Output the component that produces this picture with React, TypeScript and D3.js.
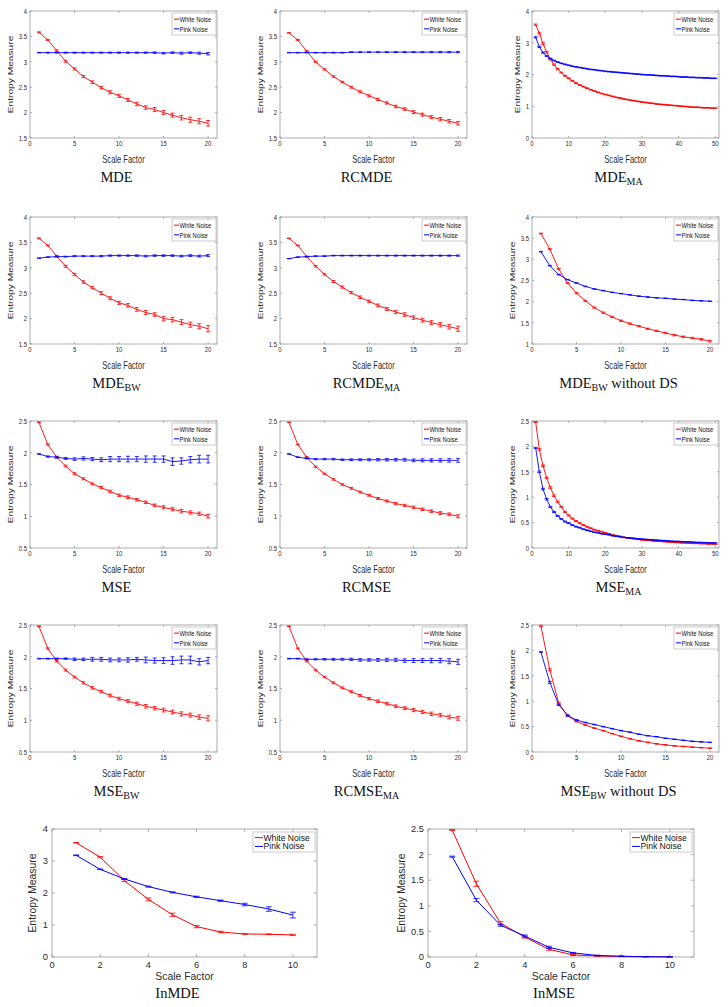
import * as d3 from "d3";

// scale factors
const sf10 = [1, 2, 3, 4, 5, 6, 7, 8, 9, 10];
const sf20 = [1, 2, 3, 4, 5, 6, 7, 8, 9, 10, 11, 12, 13, 14, 15, 16, 17, 18, 19, 20];
const sf50 = [1, 2, 3, 4, 5, 6, 7, 8, 9, 10, 11, 12, 13, 14, 15, 16, 17, 18, 19, 20, 21, 22, 23, 24, 25,
  26, 27, 28, 29, 30, 31, 32, 33, 34, 35, 36, 37, 38, 39, 40, 41, 42, 43, 44, 45, 46, 47, 48, 49, 50];

const ticks20 = [0, 5, 10, 15, 20];
const ticks50 = [0, 10, 20, 30, 40, 50];
const ticks10 = [0, 2, 4, 6, 8, 10];
const ticksMde = [1.5, 2, 2.5, 3, 3.5, 4];
const ticksMde04 = [0, 1, 2, 3, 4];
const ticksMde14 = [1, 1.5, 2, 2.5, 3, 3.5, 4];
const ticksMse = [0.5, 1, 1.5, 2, 2.5];
const ticksMse0 = [0, 0.5, 1, 1.5, 2, 2.5];

// MDE
const mdeWhite = [3.58, 3.43, 3.22, 3.01, 2.86, 2.71, 2.6, 2.49, 2.4, 2.33, 2.25, 2.17, 2.1, 2.06, 2.0, 1.95, 1.9, 1.86, 1.83, 1.79];
const mdeWhiteErr = [0.01, 0.01, 0.015, 0.02, 0.02, 0.02, 0.025, 0.025, 0.03, 0.03, 0.03, 0.035, 0.035, 0.04, 0.04, 0.04, 0.045, 0.05, 0.05, 0.055];
const mdePink = [3.18, 3.18, 3.18, 3.18, 3.18, 3.18, 3.18, 3.18, 3.18, 3.18, 3.18, 3.18, 3.18, 3.18, 3.17, 3.18, 3.17, 3.18, 3.17, 3.16];
const mdePinkErr = [0.005, 0.008, 0.008, 0.01, 0.01, 0.01, 0.01, 0.01, 0.01, 0.012, 0.012, 0.012, 0.012, 0.015, 0.015, 0.015, 0.02, 0.015, 0.02, 0.025];

// RCMDE
const rcmdeWhite = [3.57, 3.43, 3.21, 3.0, 2.85, 2.71, 2.6, 2.5, 2.41, 2.33, 2.26, 2.19, 2.12, 2.07, 2.01, 1.96, 1.91, 1.87, 1.83, 1.79];
const rcmdeWhiteErr = [0.005, 0.008, 0.01, 0.012, 0.015, 0.015, 0.015, 0.018, 0.02, 0.02, 0.022, 0.022, 0.025, 0.025, 0.028, 0.03, 0.03, 0.032, 0.035, 0.035];
const rcmdePink = [3.18, 3.18, 3.18, 3.18, 3.18, 3.18, 3.18, 3.19, 3.19, 3.19, 3.19, 3.19, 3.19, 3.19, 3.19, 3.19, 3.19, 3.19, 3.19, 3.19];
const rcmdePinkErr = [0.004, 0.005, 0.005, 0.006, 0.006, 0.007, 0.007, 0.008, 0.008, 0.008, 0.009, 0.009, 0.01, 0.01, 0.01, 0.01, 0.011, 0.011, 0.012, 0.012];

// MDE_MA
const mdeMaWhite = [3.57, 3.3, 2.97, 2.7, 2.48, 2.31, 2.17, 2.06, 1.96, 1.88, 1.8, 1.73, 1.67, 1.62, 1.57, 1.52, 1.48, 1.44, 1.4, 1.37,
  1.34, 1.31, 1.28, 1.26, 1.23, 1.21, 1.19, 1.17, 1.15, 1.13, 1.12, 1.1, 1.09, 1.07, 1.06, 1.05, 1.04, 1.03, 1.02, 1.01,
  1.0, 0.99, 0.98, 0.97, 0.97, 0.96, 0.95, 0.95, 0.94, 0.94];
const mdeMaWhiteErr = [0.02, 0.03, 0.03, 0.025, 0.02, 0.02, 0.02, 0.015, 0.015, 0.015, 0.012, 0.012, 0.012, 0.01, 0.01, 0.01, 0.01, 0.01, 0.01, 0.01,
  0.01, 0.01, 0.01, 0.01, 0.01, 0.01, 0.01, 0.01, 0.01, 0.01, 0.01, 0.01, 0.01, 0.01, 0.01, 0.01, 0.01, 0.01, 0.01, 0.01,
  0.01, 0.01, 0.01, 0.01, 0.01, 0.01, 0.01, 0.01, 0.01, 0.01];
const mdeMaPink = [3.17, 2.87, 2.69, 2.58, 2.5, 2.44, 2.39, 2.35, 2.32, 2.29, 2.26, 2.24, 2.22, 2.2, 2.18, 2.16, 2.15, 2.13, 2.12, 2.1,
  2.09, 2.08, 2.07, 2.06, 2.05, 2.04, 2.03, 2.02, 2.01, 2.0, 1.99, 1.99, 1.98, 1.97, 1.96, 1.96, 1.95, 1.94, 1.94, 1.93,
  1.92, 1.92, 1.91, 1.91, 1.9, 1.9, 1.89, 1.89, 1.88, 1.88];
const mdeMaPinkErr = [0.02, 0.02, 0.02, 0.015, 0.015, 0.012, 0.012, 0.01, 0.01, 0.01, 0.01, 0.01, 0.01, 0.01, 0.01, 0.01, 0.01, 0.01, 0.01, 0.01,
  0.01, 0.01, 0.01, 0.01, 0.01, 0.01, 0.01, 0.01, 0.01, 0.01, 0.01, 0.01, 0.01, 0.01, 0.01, 0.01, 0.01, 0.01, 0.01, 0.01,
  0.01, 0.01, 0.01, 0.01, 0.01, 0.01, 0.01, 0.01, 0.01, 0.01];

// MDE_BW
const mdeBwWhite = [3.58, 3.44, 3.23, 3.03, 2.87, 2.72, 2.61, 2.5, 2.4, 2.31, 2.26, 2.18, 2.12, 2.08, 2.0, 1.98, 1.93, 1.88, 1.85, 1.8];
const mdeBwWhiteErr = [0.01, 0.01, 0.015, 0.02, 0.02, 0.025, 0.025, 0.03, 0.03, 0.03, 0.035, 0.035, 0.04, 0.035, 0.045, 0.045, 0.05, 0.05, 0.05, 0.06];
const mdeBwPink = [3.19, 3.21, 3.22, 3.22, 3.23, 3.23, 3.23, 3.23, 3.24, 3.24, 3.24, 3.24, 3.23, 3.24, 3.24, 3.24, 3.23, 3.24, 3.23, 3.24];
const mdeBwPinkErr = [0.005, 0.006, 0.008, 0.008, 0.01, 0.01, 0.01, 0.012, 0.012, 0.012, 0.012, 0.015, 0.015, 0.015, 0.015, 0.015, 0.015, 0.018, 0.018, 0.02];

// RCMDE_MA
const rcmdeMaWhite = [3.58, 3.44, 3.22, 3.03, 2.87, 2.73, 2.62, 2.51, 2.42, 2.34, 2.26, 2.19, 2.13, 2.08, 2.02, 1.97, 1.92, 1.88, 1.84, 1.8];
const rcmdeMaWhiteErr = [0.005, 0.008, 0.01, 0.015, 0.015, 0.02, 0.02, 0.02, 0.025, 0.025, 0.028, 0.03, 0.032, 0.035, 0.035, 0.038, 0.04, 0.042, 0.045, 0.05];
const rcmdeMaPink = [3.18, 3.21, 3.22, 3.23, 3.23, 3.24, 3.24, 3.24, 3.24, 3.24, 3.24, 3.24, 3.24, 3.24, 3.24, 3.24, 3.24, 3.24, 3.24, 3.24];
const rcmdeMaPinkErr = [0.004, 0.005, 0.006, 0.006, 0.007, 0.007, 0.008, 0.008, 0.008, 0.009, 0.009, 0.009, 0.01, 0.01, 0.01, 0.01, 0.01, 0.011, 0.011, 0.012];

// MDE_BW without DS
const mdeBwNdWhite = [3.61, 3.24, 2.77, 2.44, 2.2, 2.02, 1.86, 1.74, 1.64, 1.55, 1.48, 1.42, 1.36, 1.31, 1.26, 1.21, 1.17, 1.14, 1.11, 1.07];
const mdeBwNdWhiteErr = [0.01, 0.012, 0.015, 0.015, 0.015, 0.015, 0.015, 0.015, 0.015, 0.015, 0.015, 0.015, 0.015, 0.015, 0.018, 0.018, 0.018, 0.018, 0.018, 0.02];
const mdeBwNdPink = [3.18, 2.85, 2.64, 2.52, 2.44, 2.36, 2.3, 2.26, 2.22, 2.19, 2.16, 2.13, 2.11, 2.09, 2.08, 2.06, 2.05, 2.03, 2.02, 2.01];
const mdeBwNdPinkErr = [0.008, 0.008, 0.008, 0.006, 0.006, 0.006, 0.005, 0.005, 0.005, 0.005, 0.005, 0.005, 0.005, 0.005, 0.005, 0.005, 0.005, 0.005, 0.005, 0.005];

// MSE
const mseWhite = [2.48, 2.13, 1.93, 1.79, 1.67, 1.59, 1.51, 1.45, 1.39, 1.33, 1.3, 1.26, 1.22, 1.17, 1.14, 1.11, 1.08, 1.06, 1.04, 1.0];
const mseWhiteErr = [0.005, 0.01, 0.01, 0.015, 0.015, 0.015, 0.015, 0.018, 0.02, 0.02, 0.02, 0.02, 0.02, 0.022, 0.025, 0.025, 0.028, 0.025, 0.025, 0.028];
const msePink = [1.98, 1.94, 1.93, 1.91, 1.9, 1.91, 1.9, 1.89, 1.9, 1.9, 1.9, 1.9, 1.9, 1.9, 1.9, 1.86, 1.87, 1.89, 1.9, 1.9];
const msePinkErr = [0.005, 0.01, 0.015, 0.015, 0.02, 0.025, 0.025, 0.03, 0.04, 0.04, 0.045, 0.04, 0.05, 0.05, 0.05, 0.06, 0.05, 0.05, 0.06, 0.06];

// RCMSE
const rcmseWhite = [2.48, 2.13, 1.93, 1.78, 1.67, 1.58, 1.5, 1.44, 1.38, 1.33, 1.28, 1.24, 1.2, 1.17, 1.14, 1.11, 1.08, 1.05, 1.03, 1.0];
const rcmseWhiteErr = [0.004, 0.006, 0.008, 0.01, 0.01, 0.012, 0.012, 0.014, 0.014, 0.015, 0.016, 0.016, 0.018, 0.018, 0.02, 0.02, 0.02, 0.022, 0.022, 0.024];
const rcmsePink = [1.98, 1.93, 1.91, 1.9, 1.9, 1.9, 1.89, 1.89, 1.89, 1.89, 1.89, 1.89, 1.89, 1.89, 1.88, 1.88, 1.88, 1.88, 1.88, 1.88];
const rcmsePinkErr = [0.004, 0.006, 0.008, 0.01, 0.01, 0.012, 0.012, 0.014, 0.015, 0.016, 0.018, 0.02, 0.02, 0.022, 0.022, 0.024, 0.025, 0.026, 0.028, 0.03];

// MSE_MA
const mseMaWhite = [2.48, 1.94, 1.62, 1.38, 1.19, 1.03, 0.91, 0.81, 0.71, 0.64, 0.58, 0.53, 0.49, 0.45, 0.42, 0.39, 0.36, 0.34, 0.32, 0.3,
  0.28, 0.26, 0.24, 0.23, 0.21, 0.2, 0.19, 0.18, 0.17, 0.16, 0.155, 0.15, 0.14, 0.135, 0.13, 0.125, 0.12, 0.115, 0.11, 0.105,
  0.1, 0.1, 0.095, 0.09, 0.09, 0.085, 0.085, 0.08, 0.08, 0.075];
const mseMaWhiteErr = [0.01, 0.015, 0.015, 0.015, 0.015, 0.015, 0.015, 0.012, 0.012, 0.012, 0.01, 0.01, 0.01, 0.01, 0.008, 0.008, 0.008, 0.008, 0.008, 0.008,
  0.006, 0.006, 0.006, 0.006, 0.006, 0.006, 0.006, 0.006, 0.006, 0.006, 0.005, 0.005, 0.005, 0.005, 0.005, 0.005, 0.005, 0.005, 0.005, 0.005,
  0.005, 0.005, 0.005, 0.005, 0.005, 0.005, 0.005, 0.005, 0.005, 0.005];
const mseMaPink = [1.97, 1.5, 1.16, 0.96, 0.81, 0.71, 0.63, 0.57, 0.52, 0.49, 0.45, 0.42, 0.4, 0.37, 0.35, 0.33, 0.31, 0.3, 0.28, 0.27,
  0.26, 0.24, 0.23, 0.22, 0.21, 0.2, 0.195, 0.19, 0.18, 0.175, 0.17, 0.165, 0.16, 0.155, 0.15, 0.145, 0.14, 0.135, 0.13, 0.13,
  0.125, 0.12, 0.12, 0.115, 0.11, 0.11, 0.105, 0.105, 0.1, 0.1];
const mseMaPinkErr = [0.01, 0.015, 0.015, 0.015, 0.012, 0.012, 0.01, 0.01, 0.01, 0.01, 0.008, 0.008, 0.008, 0.008, 0.008, 0.006, 0.006, 0.006, 0.006, 0.006,
  0.005, 0.005, 0.005, 0.005, 0.005, 0.005, 0.005, 0.005, 0.005, 0.005, 0.005, 0.005, 0.005, 0.005, 0.005, 0.005, 0.005, 0.005, 0.005, 0.005,
  0.005, 0.005, 0.005, 0.005, 0.005, 0.005, 0.005, 0.005, 0.005, 0.005];

// MSE_BW
const mseBwWhite = [2.48, 2.13, 1.93, 1.79, 1.68, 1.59, 1.51, 1.45, 1.39, 1.34, 1.3, 1.26, 1.22, 1.19, 1.16, 1.13, 1.1, 1.08, 1.05, 1.03];
const mseBwWhiteErr = [0.005, 0.01, 0.012, 0.015, 0.015, 0.018, 0.02, 0.02, 0.022, 0.022, 0.025, 0.025, 0.028, 0.028, 0.03, 0.03, 0.032, 0.032, 0.035, 0.04];
const mseBwPink = [1.97, 1.97, 1.97, 1.97, 1.96, 1.96, 1.96, 1.96, 1.95, 1.95, 1.95, 1.96, 1.95, 1.94, 1.94, 1.94, 1.95, 1.95, 1.92, 1.94];
const mseBwPinkErr = [0.005, 0.006, 0.01, 0.012, 0.02, 0.02, 0.03, 0.03, 0.03, 0.03, 0.035, 0.03, 0.045, 0.04, 0.045, 0.06, 0.06, 0.06, 0.05, 0.05];

// RCMSE_MA
const rcmseMaWhite = [2.48, 2.13, 1.93, 1.79, 1.68, 1.59, 1.51, 1.45, 1.39, 1.34, 1.3, 1.26, 1.22, 1.19, 1.16, 1.13, 1.1, 1.08, 1.05, 1.03];
const rcmseMaWhiteErr = [0.005, 0.008, 0.01, 0.012, 0.012, 0.015, 0.015, 0.015, 0.018, 0.018, 0.02, 0.02, 0.022, 0.022, 0.025, 0.025, 0.028, 0.028, 0.03, 0.03];
const rcmseMaPink = [1.97, 1.97, 1.96, 1.96, 1.96, 1.96, 1.96, 1.96, 1.95, 1.95, 1.95, 1.95, 1.95, 1.94, 1.94, 1.94, 1.94, 1.94, 1.93, 1.92];
const rcmseMaPinkErr = [0.005, 0.006, 0.008, 0.01, 0.012, 0.015, 0.015, 0.018, 0.02, 0.02, 0.022, 0.025, 0.025, 0.028, 0.03, 0.03, 0.035, 0.035, 0.04, 0.04];

// MSE_BW without DS
const mseBwNdWhite = [2.48, 1.62, 0.96, 0.71, 0.6, 0.53, 0.47, 0.42, 0.36, 0.31, 0.26, 0.22, 0.19, 0.16, 0.14, 0.12, 0.11, 0.095, 0.085, 0.075];
const mseBwNdWhiteErr = [0.015, 0.02, 0.02, 0.015, 0.01, 0.008, 0.006, 0.006, 0.005, 0.005, 0.005, 0.005, 0.005, 0.005, 0.005, 0.005, 0.005, 0.005, 0.005, 0.005];
const mseBwNdPink = [1.97, 1.37, 0.93, 0.72, 0.63, 0.58, 0.54, 0.5, 0.46, 0.42, 0.39, 0.35, 0.32, 0.3, 0.27, 0.25, 0.23, 0.21, 0.2, 0.19];
const mseBwNdPinkErr = [0.01, 0.02, 0.015, 0.01, 0.008, 0.006, 0.005, 0.005, 0.005, 0.005, 0.005, 0.005, 0.005, 0.005, 0.005, 0.005, 0.005, 0.005, 0.005, 0.005];

// InMDE
const inmdeWhite = [3.57, 3.12, 2.39, 1.8, 1.32, 0.95, 0.78, 0.72, 0.71, 0.69];
const inmdeWhiteErr = [0.01, 0.02, 0.035, 0.045, 0.05, 0.035, 0.025, 0.01, 0.01, 0.02];
const inmdePink = [3.18, 2.74, 2.44, 2.2, 2.02, 1.88, 1.76, 1.64, 1.5, 1.31];
const inmdePinkErr = [0.01, 0.01, 0.01, 0.015, 0.015, 0.02, 0.02, 0.04, 0.07, 0.09];

// InMSE
const inmseWhite = [2.48, 1.43, 0.66, 0.39, 0.15, 0.04, 0.02, 0.01, 0.005, 0.002];
const inmseWhiteErr = [0.01, 0.05, 0.03, 0.02, 0.02, 0.01, 0.005, 0.004, 0.003, 0.002];
const inmsePink = [1.96, 1.11, 0.62, 0.41, 0.19, 0.08, 0.03, 0.015, 0.007, 0.003];
const inmsePinkErr = [0.01, 0.03, 0.02, 0.02, 0.02, 0.01, 0.006, 0.004, 0.003, 0.002];

const RED = "#ff0000";
const BLUE = "#0000ff";
const AXIS = "#9a9a9a";
const LABEL = "#2b2b2b";
const SANS = "'Liberation Sans', Arial, sans-serif";
const SERIF = "'Liberation Serif', 'DejaVu Serif', serif";

type PanelProps = {
  x0: number; y0: number; w: number; h: number;
  xs: number[]; xMax: number; xTicks: number[];
  yDomain: [number, number]; yTicks: number[];
  white: number[]; whiteErr: number[]; pink: number[]; pinkErr: number[];
  title: string; sub?: string; suffix?: string;
  big?: boolean;
};

function Panel(p: PanelProps) {
  const big = !!p.big;
  // the small panels in the source are squeezed horizontally
  const sx = big ? 1 : 0.74;
  const tickFont = big ? 9.3 : 8;
  const labFont = big ? 10.4 : 10.2;
  const legFont = big ? 8.6 : 8;
  const tickLen = big ? 3 : 2;
  const cap = big ? 3 : 2;

  const x = d3.scaleLinear().domain([0, p.xMax]).range([p.x0, p.x0 + p.w]);
  const y = d3.scaleLinear().domain(p.yDomain).range([p.y0 + p.h, p.y0]);
  const line = d3.line<number>().x((_, i) => x(p.xs[i])).y((d) => y(d));

  const fmt = (t: number) => String(t);
  const charW = (s: string) =>
    s.split("").reduce((a, c) => a + (c === "." ? 0.278 : 0.556), 0) * tickFont * sx;
  const maxTickW = Math.max(...p.yTicks.map((t) => charW(fmt(t))));
  const yLabX = p.x0 - (big ? 4 + maxTickW + 6.5 : 3 + maxTickW + 5.5);
  const bottom = p.y0 + p.h;
  const right = p.x0 + p.w;
  const cx = p.x0 + p.w / 2;

  const series = [
    { v: p.white, e: p.whiteErr, c: RED },
    { v: p.pink, e: p.pinkErr, c: BLUE },
  ];

  const legW = big ? 62 : 44;
  const legH = big ? 20 : 22;
  const legX = right - legW - (big ? 2 : 1);
  const legY = p.y0 + (big ? 3 : 2);

  return (
    <g>
      <rect x={p.x0} y={p.y0} width={p.w} height={p.h} fill="#fff" stroke={AXIS} strokeWidth={0.8} />
      {p.xTicks.map((t) => (
        <g key={"xt" + t}>
          <line x1={x(t)} x2={x(t)} y1={bottom} y2={bottom - tickLen} stroke={AXIS} strokeWidth={0.8} />
          <line x1={x(t)} x2={x(t)} y1={p.y0} y2={p.y0 + tickLen} stroke={AXIS} strokeWidth={0.8} />
          <text transform={`translate(${x(t)},${bottom + (big ? 10.5 : 8.3)}) scale(${sx},1)`} textAnchor="middle"
            fontSize={tickFont} fill={LABEL} fontFamily={SANS}>{fmt(t)}</text>
        </g>
      ))}
      {p.yTicks.map((t) => (
        <g key={"yt" + t}>
          <line x1={p.x0} x2={p.x0 + tickLen} y1={y(t)} y2={y(t)} stroke={AXIS} strokeWidth={0.8} />
          <line x1={right} x2={right - tickLen} y1={y(t)} y2={y(t)} stroke={AXIS} strokeWidth={0.8} />
          <text transform={`translate(${p.x0 - (big ? 4 : 3)},${y(t) + tickFont * 0.35}) scale(${sx},1)`} textAnchor="end"
            fontSize={tickFont} fill={LABEL} fontFamily={SANS}>{fmt(t)}</text>
        </g>
      ))}
      <text transform={`translate(${cx},${bottom + (big ? 23 : 24.5)}) scale(${sx},1)`} textAnchor="middle"
        fontSize={labFont} fill={LABEL} fontFamily={SANS}>Scale Factor</text>
      <text transform={`translate(${yLabX},${p.y0 + p.h / 2}) scale(${sx},1) rotate(-90)`} textAnchor="middle"
        fontSize={labFont} fill={LABEL} fontFamily={SANS}>Entropy Measure</text>

      {series.map((s, k) => (
        <g key={"s" + k}>
          <path d={line(s.v) ?? ""} fill="none" stroke={s.c} strokeWidth={big ? 1 : 0.9} />
          {s.v.map((v, i) => {
            const px = x(p.xs[i]);
            const lo = y(v - s.e[i]);
            const hi = y(v + s.e[i]);
            return (
              <g key={i} stroke={s.c} strokeWidth={0.8}>
                <line x1={px} x2={px} y1={lo} y2={hi} />
                <line x1={px - cap} x2={px + cap} y1={lo} y2={lo} />
                <line x1={px - cap} x2={px + cap} y1={hi} y2={hi} />
              </g>
            );
          })}
        </g>
      ))}

      <rect x={legX} y={legY} width={legW} height={legH} fill="#fff" stroke="#b5b5b5" strokeWidth={0.7} />
      {[{ t: "White Noise", c: RED }, { t: "Pink Noise", c: BLUE }].map((l, i) => {
        const ly = legY + legH * (i === 0 ? 0.28 : 0.72);
        return (
          <g key={l.t}>
            <line x1={legX + 2} x2={legX + (big ? 10 : 7)} y1={ly} y2={ly} stroke={l.c} strokeWidth={1} />
            <text transform={`translate(${legX + (big ? 10.5 : 7.5)},${ly + legFont * 0.35}) scale(${sx},1)`}
              fontSize={legFont} fill="#111" fontFamily={SANS}>{l.t}</text>
          </g>
        );
      })}

      <text x={cx - 7} y={bottom + (big ? 41 : 44)} textAnchor="middle" fontSize={14.5} fill="#111" fontFamily={SERIF}>
        {p.title}
        {p.sub && <tspan fontSize={10} dy={3}>{p.sub}</tspan>}
        {p.suffix && <tspan fontSize={14.5} dy={-3}>{p.suffix}</tspan>}
      </text>
    </g>
  );
}

const COLS = [30, 280, 532];
const ROWS = [11, 217, 421, 625];
const PW = 187;
const PH = 127;

export default function App() {
  const small = (r: number, c: number) => ({ x0: COLS[c], y0: ROWS[r], w: PW, h: PH });
  return (
    <svg width={728} height={1007} style={{ position: "absolute", left: 0, top: 0, background: "#fff" }}>
      <rect width={728} height={1007} fill="#fff" />
      <Panel {...small(0, 0)} xs={sf20} xMax={21} xTicks={ticks20} yDomain={[1.5, 4]} yTicks={ticksMde}
        white={mdeWhite} whiteErr={mdeWhiteErr} pink={mdePink} pinkErr={mdePinkErr} title="MDE" />
      <Panel {...small(0, 1)} xs={sf20} xMax={21} xTicks={ticks20} yDomain={[1.5, 4]} yTicks={ticksMde}
        white={rcmdeWhite} whiteErr={rcmdeWhiteErr} pink={rcmdePink} pinkErr={rcmdePinkErr} title="RCMDE" />
      <Panel {...small(0, 2)} xs={sf50} xMax={51} xTicks={ticks50} yDomain={[0, 4]} yTicks={ticksMde04}
        white={mdeMaWhite} whiteErr={mdeMaWhiteErr} pink={mdeMaPink} pinkErr={mdeMaPinkErr} title="MDE" sub="MA" />

      <Panel {...small(1, 0)} xs={sf20} xMax={21} xTicks={ticks20} yDomain={[1.5, 4]} yTicks={ticksMde}
        white={mdeBwWhite} whiteErr={mdeBwWhiteErr} pink={mdeBwPink} pinkErr={mdeBwPinkErr} title="MDE" sub="BW" />
      <Panel {...small(1, 1)} xs={sf20} xMax={21} xTicks={ticks20} yDomain={[1.5, 4]} yTicks={ticksMde}
        white={rcmdeMaWhite} whiteErr={rcmdeMaWhiteErr} pink={rcmdeMaPink} pinkErr={rcmdeMaPinkErr} title="RCMDE" sub="MA" />
      <Panel {...small(1, 2)} xs={sf20} xMax={21} xTicks={ticks20} yDomain={[1, 4]} yTicks={ticksMde14}
        white={mdeBwNdWhite} whiteErr={mdeBwNdWhiteErr} pink={mdeBwNdPink} pinkErr={mdeBwNdPinkErr}
        title="MDE" sub="BW" suffix=" without DS" />

      <Panel {...small(2, 0)} xs={sf20} xMax={21} xTicks={ticks20} yDomain={[0.5, 2.5]} yTicks={ticksMse}
        white={mseWhite} whiteErr={mseWhiteErr} pink={msePink} pinkErr={msePinkErr} title="MSE" />
      <Panel {...small(2, 1)} xs={sf20} xMax={21} xTicks={ticks20} yDomain={[0.5, 2.5]} yTicks={ticksMse}
        white={rcmseWhite} whiteErr={rcmseWhiteErr} pink={rcmsePink} pinkErr={rcmsePinkErr} title="RCMSE" />
      <Panel {...small(2, 2)} xs={sf50} xMax={51} xTicks={ticks50} yDomain={[0, 2.5]} yTicks={ticksMse0}
        white={mseMaWhite} whiteErr={mseMaWhiteErr} pink={mseMaPink} pinkErr={mseMaPinkErr} title="MSE" sub="MA" />

      <Panel {...small(3, 0)} xs={sf20} xMax={21} xTicks={ticks20} yDomain={[0.5, 2.5]} yTicks={ticksMse}
        white={mseBwWhite} whiteErr={mseBwWhiteErr} pink={mseBwPink} pinkErr={mseBwPinkErr} title="MSE" sub="BW" />
      <Panel {...small(3, 1)} xs={sf20} xMax={21} xTicks={ticks20} yDomain={[0.5, 2.5]} yTicks={ticksMse}
        white={rcmseMaWhite} whiteErr={rcmseMaWhiteErr} pink={rcmseMaPink} pinkErr={rcmseMaPinkErr} title="RCMSE" sub="MA" />
      <Panel {...small(3, 2)} xs={sf20} xMax={21} xTicks={ticks20} yDomain={[0, 2.5]} yTicks={ticksMse0}
        white={mseBwNdWhite} whiteErr={mseBwNdWhiteErr} pink={mseBwNdPink} pinkErr={mseBwNdPinkErr}
        title="MSE" sub="BW" suffix=" without DS" />

      <Panel x0={52} y0={829} w={265} h={128} big xs={sf10} xMax={11} xTicks={ticks10} yDomain={[0, 4]} yTicks={ticksMde04}
        white={inmdeWhite} whiteErr={inmdeWhiteErr} pink={inmdePink} pinkErr={inmdePinkErr} title="InMDE" />
      <Panel x0={428} y0={829} w={266} h={128} big xs={sf10} xMax={11} xTicks={ticks10} yDomain={[0, 2.5]} yTicks={ticksMse0}
        white={inmseWhite} whiteErr={inmseWhiteErr} pink={inmsePink} pinkErr={inmsePinkErr} title="InMSE" />
    </svg>
  );
}
